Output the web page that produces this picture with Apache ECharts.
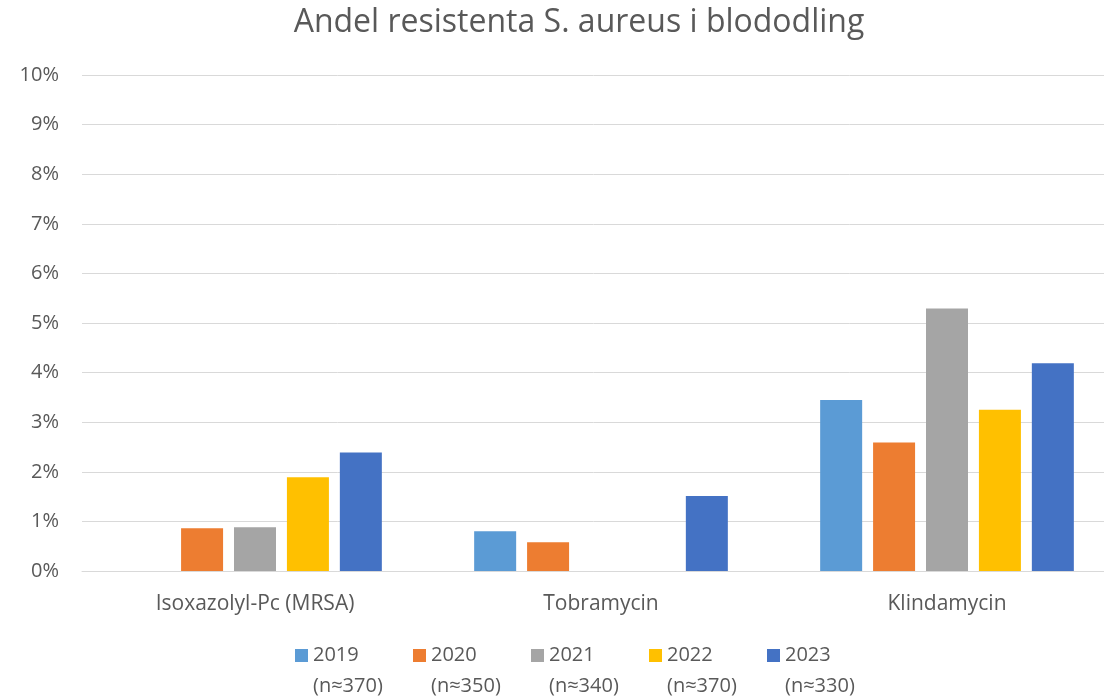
<!DOCTYPE html>
<html>
<head>
<meta charset="utf-8">
<title>Andel resistenta S. aureus i blododling</title>
<script src="https://cdn.jsdelivr.net/npm/echarts@6/dist/echarts.min.js"></script>
<style>
  html, body { margin: 0; padding: 0; background: #fff; }
  #chart { width: 1104px; height: 698px; }
</style>
</head>
<body>
<div id="chart"></div>
<script>
// kategorier och värden (procent)
const categories = ['Isoxazolyl-Pc (MRSA)', 'Tobramycin', 'Klindamycin']
const years = ['2019', '2020', '2021', '2022', '2023']
const sampleSizes = ['n≈370', 'n≈350', 'n≈340', 'n≈370', 'n≈330']
const values2019 = [0, 0.80, 3.45]
const values2020 = [0.86, 0.58, 2.59]
const values2021 = [0.88, 0, 5.29]
const values2022 = [1.89, 0, 3.25]
const values2023 = [2.39, 1.51, 4.19]
const yTicks = [0, 10, 1] // min, max, steg

const seriesValues = [values2019, values2020, values2021, values2022, values2023]
const colors = ['#5B9BD5', '#ED7D31', '#A5A5A5', '#FFC000', '#4472C4']
const font = "'Open Sans', 'Noto Sans', sans-serif"
const textColor = '#595959'

const chart = echarts.init(document.getElementById('chart'))

const option = {
  animation: false,
  textStyle: { fontFamily: font },
  title: {
    text: 'Andel resistenta S. aureus i blododling',
    left: 574,
    textAlign: 'center',
    top: 2,
    textStyle: {
      fontFamily: font,
      fontSize: 32,
      fontWeight: 'normal',
      color: textColor
    }
  },
  legend: {
    left: 295,
    top: 609,
    padding: 0,
    itemWidth: 13,
    itemHeight: 13,
    itemGap: 5,
    icon: 'rect',
    data: years,
    // tom första rad så att ikonen hamnar i höjd med årtalet
    formatter: function (name) {
      const i = years.indexOf(name)
      return ' \n' + name + '\n(' + sampleSizes[i] + ')'
    },
    textStyle: {
      fontFamily: font,
      fontSize: 20,
      color: textColor,
      lineHeight: 31,
      width: 95
    }
  },
  grid: {
    left: 82,
    top: 75,
    width: 1038,
    height: 496,
    outerBoundsMode: 'none'
  },
  xAxis: {
    type: 'category',
    data: categories,
    axisLine: { lineStyle: { color: '#D9D9D9', width: 1 } },
    axisTick: { show: false },
    axisLabel: {
      margin: 23,
      fontFamily: font,
      fontSize: 21,
      color: textColor
    }
  },
  yAxis: {
    type: 'value',
    min: yTicks[0],
    max: yTicks[1],
    interval: yTicks[2],
    axisLine: { show: false },
    axisTick: { show: false },
    axisLabel: {
      formatter: '{value}%',
      margin: 23,
      fontFamily: font,
      fontSize: 20,
      color: textColor
    },
    splitLine: { lineStyle: { color: '#D9D9D9', width: 1 } }
  },
  series: years.map((y, i) => ({
    name: y,
    type: 'bar',
    barWidth: 42,
    barGap: '26%',
    itemStyle: { color: colors[i] },
    data: seriesValues[i]
  }))
}

chart.setOption(option)
</script>
</body>
</html>
